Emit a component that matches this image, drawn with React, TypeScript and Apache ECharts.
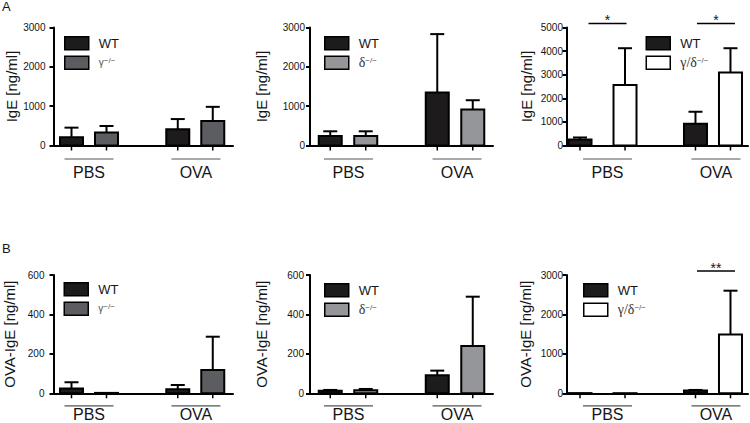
import React, { useEffect, useRef } from 'react';
import * as echarts from 'echarts';

// ---- data ----
const groups = ['PBS', 'OVA'];

// Panel A: total IgE [ng/ml] (mean, SD)
const igeWtG = [210, 412];
const igeWtGSd = [244, 260];
const igeGamma = [328, 622];
const igeGammaSd = [168, 361];
const igeWtD = [244, 1345];
const igeWtDSd = [117, 1487];
const igeDelta = [244, 916];
const igeDeltaSd = [117, 235];
const igeWtGD = [255, 920];
const igeWtGDSd = [85, 510];
const igeGD = [2564, 3088];
const igeGDSd = [1558, 1034];

// Panel B: OVA-specific IgE [ng/ml] (mean, SD)
const ovaWtG = [24, 20];
const ovaWtGSd = [32, 22];
const ovaGamma = [2, 118];
const ovaGammaSd = [0, 169];
const ovaWtD = [13, 91];
const ovaWtDSd = [4, 24];
const ovaDelta = [15, 240];
const ovaDeltaSd = [7, 250];
const ovaWtGD = [5, 68];
const ovaWtGDSd = [0, 17];
const ovaGD = [3, 1492];
const ovaGDSd = [0, 1110];

const sigA3 = ['*', '*'];
const sigB3 = ['', '**'];

const yMaxes = [3000, 3000, 5000, 600, 600, 3000];
const ySteps = [1000, 1000, 1000, 200, 200, 1000];
const yNames = ['IgE [ng/ml]', 'IgE [ng/ml]', 'IgE [ng/ml]', 'OVA-IgE [ng/ml]', 'OVA-IgE [ng/ml]', 'OVA-IgE [ng/ml]'];
const mutantNames = ['γ−/−', 'δ−/−', 'γ/δ−/−', 'γ−/−', 'δ−/−', 'γ/δ−/−'];
const panelLetters = ['A', 'B'];

const wtValues = [igeWtG, igeWtD, igeWtGD, ovaWtG, ovaWtD, ovaWtGD];
const wtSds = [igeWtGSd, igeWtDSd, igeWtGDSd, ovaWtGSd, ovaWtDSd, ovaWtGDSd];
const mutValues = [igeGamma, igeDelta, igeGD, ovaGamma, ovaDelta, ovaGD];
const mutSds = [igeGammaSd, igeDeltaSd, igeGDSd, ovaGammaSd, ovaDeltaSd, ovaGDSd];
const sigs: (string[] | null)[] = [null, null, sigA3, null, null, sigB3];

// ---- layout / style ----
const FONT = '"Liberation Sans", Arial, sans-serif';
const SERIF = '"Liberation Serif", "Times New Roman", serif';
const INK = '#151515';
const WT_FILL = '#1d1b1b';
const MUT_FILL = ['#5c5d60', '#95969a', '#ffffff'];

const cols = [
  { left: 53.5, width: 179.5, min: -0.334, max: 1.355, off: [[-17.5, 17.5], [-17.5, 17.5]], uShift: [0, 0.7], margin: [8, 9], nameGap: [34, 36.5] },
  { left: 310, width: 183, min: -0.355, max: 1.355, off: [[-17.75, 17.75], [-17.75, 17.75]], uShift: [0.5, 2], margin: [5, 6], nameGap: [41, 41.5] },
  { left: 566.5, width: 181.5, min: -0.326, max: 1.317, off: [[-22.5, 22.5], [-17.5, 17.5]], uShift: [5, 3], margin: [3.5, 3.5], nameGap: [32.5, 34] },
];
const rows = [
  { top: 27.5, height: 118, lineOff: 13.5, labelOff: 27 },
  { top: 275, height: 118.3, lineOff: 12.5, labelOff: 21 },
];
const legendPos = [[64, 36], [324, 36], [645.5, 36], [63.5, 282], [324, 283], [583, 283]];
const BAR_W = 23;

function legendLabel(name: string) {
  if (name === 'γ−/−') return '{g|γ}{s|−/−}';
  if (name === 'δ−/−') return '{d|δ}{s|−/−}';
  if (name === 'γ/δ−/−') return '{d|γ/δ}{s|−/−}';
  return name;
}

function buildOption() {
  const grid: any[] = [];
  const xAxis: any[] = [];
  const yAxis: any[] = [];
  const legend: any[] = [];
  const series: any[] = [];

  for (let p = 0; p < 6; p++) {
    const r = Math.floor(p / 3);
    const c = p % 3;
    const col = cols[c];
    const row = rows[r];
    grid.push({ left: col.left, top: row.top, width: col.width, height: row.height, containLabel: false });
    xAxis.push({
      type: 'value', gridIndex: p, min: col.min, max: col.max,
      axisLine: { show: true, onZero: false, lineStyle: { color: '#000', width: 2 } },
      axisTick: { show: false }, axisLabel: { show: false }, splitLine: { show: false },
    });
    yAxis.push({
      type: 'value', gridIndex: p, min: 0, max: yMaxes[p], interval: ySteps[p],
      name: yNames[p], nameLocation: 'middle', nameGap: col.nameGap[r],
      nameTextStyle: { fontFamily: FONT, fontSize: 15, color: INK },
      axisLine: { show: true, onZero: false, lineStyle: { color: '#000', width: 2 } },
      axisTick: { show: true, length: 4, lineStyle: { color: '#000', width: 2 } },
      axisLabel: { fontFamily: FONT, fontSize: 10, color: INK, margin: col.margin[r], formatter: (v: number) => String(v) },
      splitLine: { show: false },
    });

    const mutName = mutantNames[p];
    const mutFill = MUT_FILL[c];
    legend.push({
      orient: 'vertical', left: legendPos[p][0], top: legendPos[p][1], padding: 0,
      itemWidth: 24, itemHeight: 13, itemGap: 5, icon: 'rect', selectedMode: false,
      data: [
        { name: 'WT', itemStyle: { color: WT_FILL, borderColor: '#000', borderWidth: 1.5 } },
        { name: mutName, itemStyle: { color: mutFill, borderColor: '#000', borderWidth: 1.5 } },
      ],
      formatter: legendLabel,
      textStyle: {
        fontFamily: FONT, fontSize: 13, color: INK, lineHeight: 13, padding: [0, 0, 0, 5],
        rich: {
          g: { fontFamily: FONT, fontSize: 10, color: '#555', lineHeight: 13 },
          d: { fontFamily: SERIF, fontSize: 14, color: '#333', lineHeight: 13 },
          s: { fontFamily: FONT, fontSize: 8, color: '#555', lineHeight: 6, verticalAlign: 'top' },
        },
      },
    });

    const makeBars = (name: string, vals: number[], sds: number[], s: number, fill: string) => ({
      type: 'custom', name, xAxisIndex: p, yAxisIndex: p, clip: false,
      itemStyle: { color: fill, borderColor: '#000', borderWidth: 2 },
      encode: { x: 0, y: 1 },
      data: vals.map((v, i) => [i, v, sds[i]]),
      renderItem: (params: any, api: any) => {
        const g = api.value(0);
        const v = api.value(1);
        const sd = api.value(2);
        const base = api.coord([g, 0]);
        const top = api.coord([g, v]);
        const cx = base[0] + col.off[g][s];
        const children: any[] = [];
        if (sd > 0) {
          const et = api.coord([g, v + sd]);
          children.push({ type: 'line', shape: { x1: cx, y1: top[1], x2: cx, y2: et[1] }, style: { stroke: '#000', lineWidth: 2 } });
          children.push({ type: 'line', shape: { x1: cx - 7, y1: et[1], x2: cx + 7, y2: et[1] }, style: { stroke: '#000', lineWidth: 2 } });
        }
        children.push({
          type: 'rect', shape: { x: cx - BAR_W / 2, y: top[1], width: BAR_W, height: Math.max(base[1] - top[1], 0.3) },
          style: { fill, stroke: '#000', lineWidth: 2 },
        });
        children.push({ type: 'line', shape: { x1: cx, y1: base[1], x2: cx, y2: base[1] + 5 }, style: { stroke: '#000', lineWidth: 1.5 } });
        return { type: 'group', children };
      },
    });
    series.push(makeBars('WT', wtValues[p], wtSds[p], 0, WT_FILL));
    series.push(makeBars(mutName, mutValues[p], mutSds[p], 1, mutFill));

    // group labels with underline
    series.push({
      type: 'custom', xAxisIndex: p, yAxisIndex: p, clip: false, silent: true,
      encode: { x: 0 },
      data: groups.map((_, i) => [i, 0]),
      renderItem: (params: any, api: any) => {
        const g = api.value(0);
        const base = api.coord([g, 0]);
        const cx = base[0] + col.uShift[g];
        return {
          type: 'group',
          children: [
            { type: 'line', shape: { x1: cx - 24.5, y1: base[1] + row.lineOff, x2: cx + 24.5, y2: base[1] + row.lineOff }, style: { stroke: '#555', lineWidth: 1.2 } },
            {
              type: 'text',
              style: { text: groups[g], x: cx, y: base[1] + row.labelOff, align: 'center', verticalAlign: 'middle', textAlign: 'center', textVerticalAlign: 'middle', fontFamily: FONT, fontSize: 16, fill: INK },
            },
          ],
        };
      },
    });

    const sig = sigs[p];
    if (sig) {
      series.push({
        type: 'custom', xAxisIndex: p, yAxisIndex: p, clip: false, silent: true,
        encode: { x: 0 },
        data: sig.map((s, i) => [i, 0]).filter((d) => sig[d[0]] !== ''),
        renderItem: (params: any, api: any) => {
          const g = api.value(0);
          const topPt = api.coord([g, yMaxes[p]]);
          const cx = topPt[0] + col.uShift[g];
          const ly = topPt[1] - 4;
          return {
            type: 'group',
            children: [
              { type: 'line', shape: { x1: cx - 19, y1: ly, x2: cx + 19, y2: ly }, style: { stroke: '#000', lineWidth: 1.3 } },
              {
                type: 'text',
                style: { text: sig[g], x: cx, y: ly - 3.5, align: 'center', verticalAlign: 'middle', textAlign: 'center', textVerticalAlign: 'middle', fontFamily: FONT, fontSize: 14, fill: INK },
              },
            ],
          };
        },
      });
    }
  }

  return {
    animation: false,
    backgroundColor: '#fff',
    title: [
      { text: panelLetters[0], left: 2, top: 0, padding: 0, textStyle: { fontFamily: FONT, fontSize: 13, fontWeight: 'normal', color: INK } },
      { text: panelLetters[1], left: 2, top: 242, padding: 0, textStyle: { fontFamily: FONT, fontSize: 13, fontWeight: 'normal', color: INK } },
    ],
    grid, xAxis, yAxis, legend, series,
  };
}

export default function App() {
  const ref = useRef<HTMLDivElement>(null);
  useEffect(() => {
    if (!ref.current) return;
    const chart = echarts.init(ref.current, null, { renderer: 'svg', width: 750, height: 423 });
    chart.setOption(buildOption() as any);
    return () => chart.dispose();
  }, []);
  return <div ref={ref} style={{ position: 'fixed', left: 0, top: 0, width: 750, height: 423, background: '#fff' }} />;
}
